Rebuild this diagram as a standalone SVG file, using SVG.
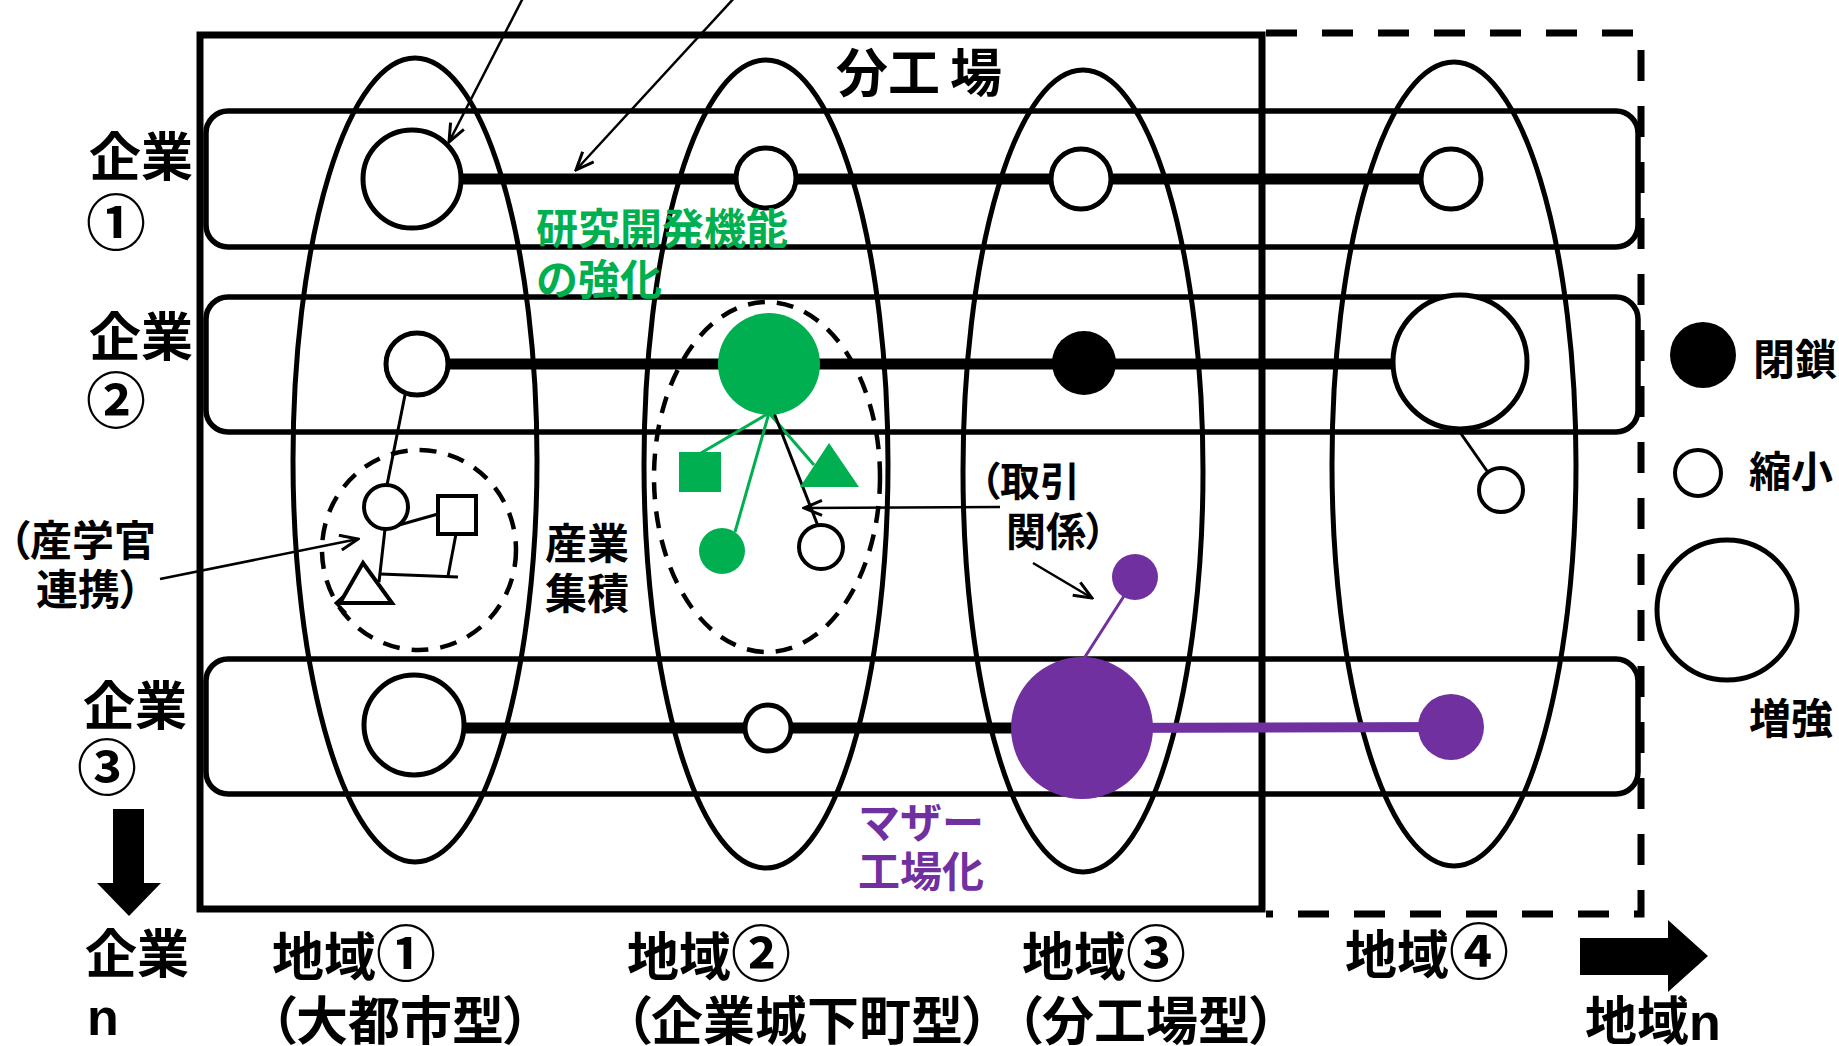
<svg xmlns="http://www.w3.org/2000/svg" width="1839" height="1046" viewBox="0 0 1839 1046">
<defs>
<style>
.frame{fill:none;stroke:#000;stroke-width:7}
.dframe{fill:none;stroke:#000;stroke-width:7;stroke-dasharray:31 25}
.region{fill:none;stroke:#000;stroke-width:5}
.band{fill:none;stroke:#000;stroke-width:5.5}
.cluster{fill:none;stroke:#000;stroke-width:4.5;stroke-dasharray:17 12}
.chain{stroke:#000;stroke-width:11;fill:none}
.pchain{stroke:#7030A0;stroke-width:10;fill:none}
.thin{stroke:#000;stroke-width:3;fill:none}
.gthin{stroke:#00B050;stroke-width:3;fill:none}
.pthin{stroke:#7030A0;stroke-width:3;fill:none}
.arrow{stroke:#000;stroke-width:2.5;fill:none;marker-end:url(#vhead)}
.wn{fill:#fff;stroke:#000;stroke-width:5}
.wns{fill:#fff;stroke:#000;stroke-width:4}
.t{font-family:"Noto Sans CJK JP","Noto Sans CJK SC",sans-serif;font-weight:bold;fill:#000}
.L{font-size:52px}
.M{font-size:42px}
.S{font-size:40px}
.cd{font-size:60px}
.p{font-feature-settings:"palt" 1}
.lat{font-family:"Liberation Sans",Arial,sans-serif;font-weight:bold}
.green{fill:#00B050}
.purple{fill:#7030A0}
</style>
<marker id="vhead" markerUnits="userSpaceOnUse" markerWidth="22" markerHeight="18" viewBox="0 0 22 18" refX="20" refY="9" orient="auto">
<path d="M2,1.5 L20,9 L2,16.5" fill="none" stroke="#000" stroke-width="3"/>
</marker>
</defs>

<g id="frames">
<rect class="frame" x="200" y="35" width="1062" height="874"/>
<polyline class="dframe" points="1266,33 1641,33 1641,914 1266,914"/>
</g>

<g id="region1"><ellipse class="region" cx="415" cy="460" rx="122" ry="402"/></g>
<g id="region2"><ellipse class="region" cx="766" cy="464" rx="122" ry="404"/></g>
<g id="region3"><ellipse class="region" cx="1083" cy="471" rx="120" ry="401"/></g>
<g id="region4"><ellipse class="region" cx="1454" cy="464" rx="122" ry="402"/></g>

<g id="company1-band"><rect class="band" x="206" y="111" width="1432" height="136" rx="22"/></g>
<g id="company2-band"><rect class="band" x="206" y="297" width="1432" height="135" rx="22"/></g>
<g id="company3-band"><rect class="band" x="206" y="659" width="1432" height="135" rx="22"/></g>

<g id="cluster1"><ellipse class="cluster" cx="419" cy="550" rx="97" ry="100"/></g>
<g id="cluster2"><ellipse class="cluster" cx="767" cy="477" rx="113" ry="175"/></g>

<g id="connectors">
<line class="chain" x1="412" y1="179" x2="1451" y2="179"/>
<line class="chain" x1="417" y1="364" x2="1460" y2="364"/>
<line class="chain" x1="414" y1="728" x2="1082" y2="728"/>
<line class="pchain" x1="1082" y1="728" x2="1451" y2="727"/>
<line class="thin" x1="405" y1="395" x2="387" y2="485"/>
<line class="thin" x1="392" y1="527" x2="438" y2="514"/>
<line class="thin" x1="385" y1="529" x2="379" y2="582"/>
<line class="thin" x1="456" y1="534" x2="448" y2="576"/>
<line class="thin" x1="380" y1="574" x2="458" y2="577"/>
<polyline class="thin" points="347,593 336,603 346,613"/>
<line class="gthin" x1="769" y1="413" x2="701" y2="453"/>
<line class="gthin" x1="769" y1="413" x2="814" y2="465"/>
<line class="gthin" x1="769" y1="413" x2="735" y2="532"/>
<line class="thin" x1="774" y1="413" x2="818" y2="526"/>
<line class="thin" x1="1457" y1="428" x2="1487" y2="471"/>
<line class="pthin" x1="1124" y1="596" x2="1083" y2="660"/>
<line class="arrow" x1="524" y1="-4" x2="449" y2="142"/>
<line class="arrow" x1="736" y1="-4" x2="576" y2="170"/>
<line class="arrow" x1="160" y1="579" x2="358" y2="539"/>
<line class="arrow" x1="1000" y1="507" x2="804" y2="508"/>
<line class="arrow" x1="1033" y1="563" x2="1092" y2="598"/>
</g>

<g id="c1-r1"><circle class="wn" cx="412" cy="179" r="49"/></g>
<g id="c1-r2"><circle class="wn" cx="766" cy="178" r="30"/></g>
<g id="c1-r3"><circle class="wn" cx="1081" cy="179" r="30"/></g>
<g id="c1-r4"><circle class="wn" cx="1451" cy="179" r="30"/></g>

<g id="c2-r1"><circle class="wn" cx="417" cy="364" r="31"/></g>
<g id="c2-r2"><circle cx="769" cy="364" r="51" fill="#00B050"/></g>
<g id="c2-r3"><circle cx="1084" cy="363" r="32" fill="#000"/></g>
<g id="c2-r4"><circle class="wn" cx="1460" cy="362" r="67"/></g>
<g id="c2-r4-sub"><circle class="wns" cx="1501" cy="490" r="22"/></g>

<g id="c3-r1"><circle class="wn" cx="414" cy="725" r="50"/></g>
<g id="c3-r2"><circle class="wn" cx="768" cy="728" r="23"/></g>
<g id="c3-r3"><circle cx="1082" cy="728" r="71" fill="#7030A0"/></g>
<g id="c3-r4"><circle cx="1451" cy="727" r="33" fill="#7030A0"/></g>
<g id="c3-r3-sub"><circle cx="1135" cy="577" r="23" fill="#7030A0"/></g>

<g id="cl1-circle"><circle class="wns" cx="386" cy="507" r="22"/></g>
<g id="cl1-square"><rect class="wns" x="438" y="496" width="38" height="38"/></g>
<g id="cl1-triangle"><polygon class="wns" points="363,563 340,603 392,603"/></g>

<g id="cl2-square"><rect x="679" y="452" width="42" height="40" fill="#00B050"/></g>
<g id="cl2-triangle"><polygon points="829,443 800,487 859,487" fill="#00B050"/></g>
<g id="cl2-circle"><circle cx="722" cy="551" r="23" fill="#00B050"/></g>
<g id="cl2-white"><circle class="wns" cx="821" cy="547" r="22"/></g>

<g id="legend">
<circle cx="1703" cy="355" r="33" fill="#000"/>
<circle class="wns" cx="1698" cy="473" r="23"/>
<circle class="wn" cx="1727" cy="610" r="70"/>
<text class="t M" x="1753" y="375">閉鎖</text>
<text class="t M" x="1749" y="487">縮小</text>
<text class="t M" x="1749" y="734">増強</text>
</g>

<g id="arrows-axes">
<polygon points="113,809 144,809 144,883 161,883 129,916 97,883 113,883" fill="#000"/>
<polygon points="1580,938 1668,938 1668,920 1708,956 1668,992 1668,975 1580,975" fill="#000"/>
</g>

<g id="labels">
<text class="t L" x="836 888 950" y="92">分工場</text>
<text class="t L" x="89" y="176">企業</text>
<text class="t cd" x="86" y="245">①</text>
<text class="t L" x="89" y="356">企業</text>
<text class="t cd" x="86" y="423">②</text>
<text class="t L" x="83" y="725">企業</text>
<text class="t cd" x="77" y="790">③</text>
<text class="t L" x="85" y="973">企業</text>
<text class="t L lat" x="87" y="1035">n</text>
<text class="t L" x="272" y="976">地域<tspan class="cd">①</tspan></text>
<text class="t L p" x="270" y="1040">（大都市型）</text>
<text class="t L" x="627" y="976">地域<tspan class="cd">②</tspan></text>
<text class="t L p" x="625" y="1040">（企業城下町型）</text>
<text class="t L" x="1022" y="976">地域<tspan class="cd">③</tspan></text>
<text class="t L p" x="1016" y="1040">（分工場型）</text>
<text class="t L" x="1345" y="974">地域<tspan class="cd">④</tspan></text>
<text class="t L" x="1585" y="1040">地域<tspan class="lat">n</tspan></text>
<text class="t M green" x="536" y="244">研究開発機能</text>
<text class="t M green" x="536" y="295">の強化</text>
<text class="t M purple" x="858" y="838">マザー</text>
<text class="t M purple" x="858" y="887">工場化</text>
<text class="t M" x="545" y="559">産業</text>
<text class="t M" x="545" y="609">集積</text>
<text class="t M p" x="9" y="556">（産学官</text>
<text class="t M p" x="36" y="605">連携）</text>
<text class="t S p" x="980" y="496">（取引</text>
<text class="t S p" x="1006" y="546">関係）</text>
</g>
</svg>
